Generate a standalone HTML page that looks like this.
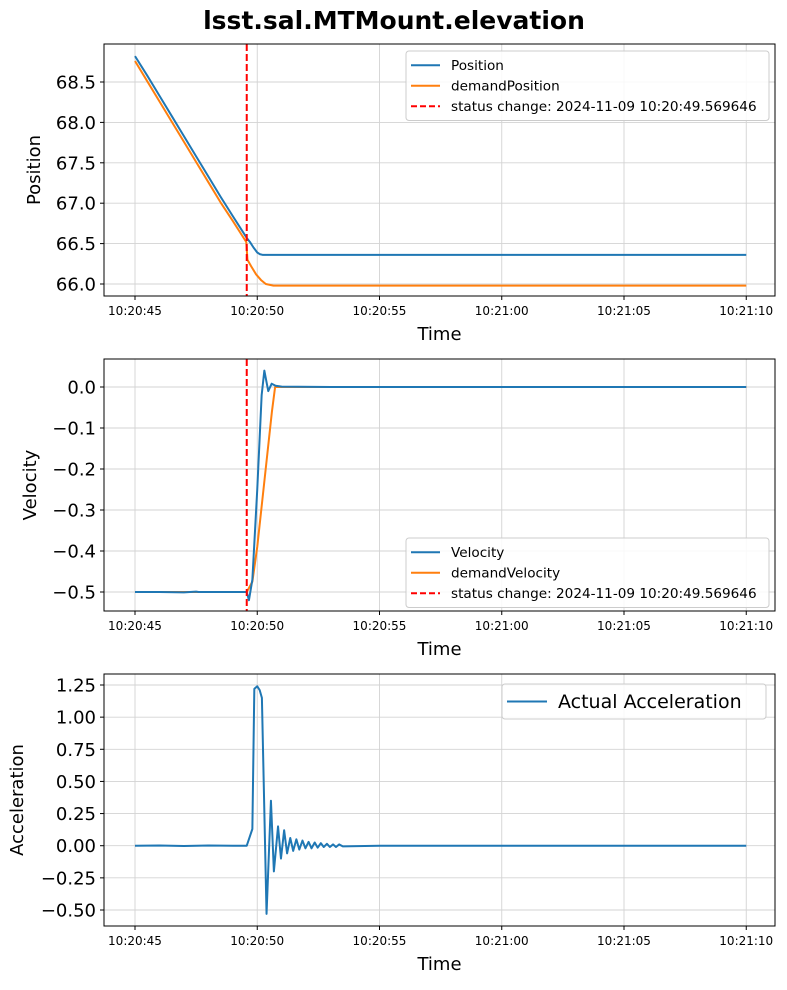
<!DOCTYPE html>
<html><head><meta charset="utf-8"><style>
body{margin:0;background:#fff;font-family:"Liberation Sans","DejaVu Sans",sans-serif}
svg text{font-family:"DejaVu Sans","Liberation Sans",sans-serif}
</style></head><body>
<svg id="fig" width="787" height="985" xmlns="http://www.w3.org/2000/svg">
<text x="394" y="29" text-anchor="middle" font-size="25" font-weight="bold">lsst.sal.MTMount.elevation</text>
</svg>
<script>
// time in seconds since 10:20:45
const xTickLabels = ["10:20:45","10:20:50","10:20:55","10:21:00","10:21:05","10:21:10"];
const xTickValues = [0,5,10,15,20,25];
const statusChangeTime = 4.57;

const posT      = [0,0.5,1,1.5,2,2.5,3,3.5,4,4.57,4.7,4.85,5.0,5.1,5.23,10,15,20,25];
const posVal    = [68.82,68.58,68.33,68.08,67.83,67.58,67.33,67.08,66.84,66.57,66.52,66.45,66.39,66.37,66.36,66.36,66.36,66.36,66.36];
const dPosT     = [0,0.5,1,1.5,2,2.5,3,3.5,4,4.55,4.6,4.75,4.95,5.15,5.35,5.66,10,15,20,25];
const dPosVal   = [68.76,68.51,68.26,68.01,67.76,67.51,67.26,67.01,66.78,66.52,66.3,66.22,66.12,66.05,66.0,65.98,65.98,65.98,65.98,65.98];

const velT      = [0,1,2,2.5,2.6,3,4,4.57,4.66,4.8,5.0,5.18,5.29,5.45,5.59,5.75,6,8,10,15,20,25];
const velVal    = [-0.5,-0.5,-0.501,-0.499,-0.5,-0.5,-0.5,-0.5,-0.52,-0.47,-0.25,-0.02,0.04,-0.01,0.008,0.003,0.001,0,0,0,0,0];
const dVelT     = [0,1,2,3,4,4.57,4.8,5.0,5.2,5.4,5.6,5.73,6,10,15,20,25];
const dVelVal   = [-0.5,-0.5,-0.5,-0.5,-0.5,-0.5,-0.475,-0.39,-0.28,-0.17,-0.06,0,0,0,0,0,0];

const accT      = [0,1,2,3,4,4.57,4.8,4.88,5.0,5.1,5.19,5.38,5.56,5.68,5.85,5.97,6.1,6.22,6.35,6.47,6.6,6.72,6.85,6.97,7.1,7.22,7.35,7.47,7.6,7.72,7.85,7.97,8.1,8.22,8.35,8.5,10,15,20,25];
const accVal    = [0,0.002,-0.002,0.002,0,0,0.13,1.22,1.24,1.21,1.15,-0.53,0.35,-0.2,0.15,-0.1,0.12,-0.06,0.06,-0.04,0.05,-0.03,0.04,-0.02,0.03,-0.02,0.025,-0.015,0.02,-0.01,0.015,-0.01,0.01,-0.01,0.01,-0.005,0,0,0,0];

const yTicks1 = [66.0,66.5,67.0,67.5,68.0,68.5];
const yTicks2 = [-0.5,-0.4,-0.3,-0.2,-0.1,0.0];
const yTicks3 = [-0.5,-0.25,0,0.25,0.5,0.75,1.0,1.25];

const NS="http://www.w3.org/2000/svg";
const svg=document.getElementById('fig');
function mk(tag,attrs,parent){const e=document.createElementNS(NS,tag);for(const k in attrs)e.setAttribute(k,attrs[k]);(parent||svg).appendChild(e);return e;}
const X0=104,X1=775;
const xs=t=>135+t*24.45;
const fmtMinus=s=>s.replace('-','\u2212');

function panel(name,top,bot,y0v,y0p,y1v,y1p,yTicks,fmt,ylabel,ylabX){
  const ys=v=>y0p+(v-y0v)*(y1p-y0p)/(y1v-y0v);
  const g=mk('g',{});
  
  
  xTickValues.forEach((v,i)=>{
    const x=xs(v);
    const gl=mk('line',{x1:x,x2:x,y1:top,y2:bot,stroke:'#d3d3d3','stroke-width':0.9},g);
    
    mk('line',{x1:x,x2:x,y1:bot,y2:bot+4,stroke:'#000'},g);
    const t=mk('text',{x:x,y:bot+19,'text-anchor':'middle','font-size':12},g);
    t.textContent=xTickLabels[i];
    
  });
  yTicks.forEach(v=>{
    const y=ys(v);
    const gl=mk('line',{x1:X0,x2:X1,y1:y,y2:y,stroke:'#d3d3d3','stroke-width':0.9},g);
    
    mk('line',{x1:X0-4,x2:X0,y1:y,y2:y,stroke:'#000'},g);
    const t=mk('text',{x:X0-8,y:y+6.5,'text-anchor':'end','font-size':18},g);
    t.textContent=fmtMinus(fmt(v));
    
  });
  const xl=mk('text',{x:(X0+X1)/2,y:bot+44,'text-anchor':'middle','font-size':18},g);
  xl.textContent='Time';
  
  const yl=mk('text',{x:ylabX,y:(top+bot)/2,'text-anchor':'middle','font-size':18,transform:`rotate(-90 ${ylabX} ${(top+bot)/2})`},g);
  yl.textContent=ylabel;
  
  return {g,ys};
}
function series(g,T,V,ys,color,name){
  const d=T.map((t,i)=>(i?'L':'M')+xs(t).toFixed(2)+','+ys(V[i]).toFixed(2)).join('');
  const p=mk('path',{d:d,fill:'none',stroke:color,'stroke-width':2,'stroke-linejoin':'round'},g);
  
  
}
function vline(g,top,bot){
  const l=mk('line',{x1:xs(statusChangeTime),x2:xs(statusChangeTime),y1:top,y2:bot,stroke:'#ff0000','stroke-width':2,'stroke-dasharray':'7,3'},g);
  
  
}
function frame(g,top,bot){
  const r=mk('rect',{x:X0,y:top,width:X1-X0,height:bot-top,fill:'none',stroke:'#000','stroke-width':1},g);
  
}
function legend(g,x,y,w,entries,fs,rowH,lineLen){
  const lg=mk('g',{},g);
  
  mk('rect',{x:x,y:y,width:w,height:entries.length*rowH+8,rx:3,fill:'#fff','fill-opacity':0.85,stroke:'#cccccc'},lg);
  entries.forEach((e,i)=>{
    const cy=y+4+rowH*(i+0.5);
    const ln=mk('line',{x1:x+5,x2:x+5+lineLen,y1:cy,y2:cy,stroke:e[1],'stroke-width':2,'stroke-dasharray':e[2]?'6,3':'none'},lg);
    
    const t=mk('text',{x:x+lineLen+16,y:cy+fs*0.35,'font-size':fs},lg);
    t.textContent=e[0];
    
  });
}

// Panel 1
let P=panel('position',44,296,66.0,284,68.5,82,yTicks1,v=>v.toFixed(1),'Position',40);
series(P.g,dPosT,dPosVal,P.ys,'#ff7f0e','demand-position-line');
series(P.g,posT,posVal,P.ys,'#1f77b4','position-line');
vline(P.g,44,296);frame(P.g,44,296);
legend(P.g,406,51,363,[['Position','#1f77b4'],['demandPosition','#ff7f0e'],['status change: 2024-11-09 10:20:49.569646','#ff0000',true]],13.6,20.5,29);

// Panel 2
P=panel('velocity',359,611,0,387,-0.5,592,yTicks2,v=>v.toFixed(1),'Velocity',36);
series(P.g,dVelT,dVelVal,P.ys,'#ff7f0e','demand-velocity-line');
series(P.g,velT,velVal,P.ys,'#1f77b4','velocity-line');
vline(P.g,359,611);frame(P.g,359,611);
legend(P.g,406,538,363,[['Velocity','#1f77b4'],['demandVelocity','#ff7f0e'],['status change: 2024-11-09 10:20:49.569646','#ff0000',true]],13.6,20.5,29);

// Panel 3
P=panel('acceleration',674,926,1.25,685,-0.5,910,yTicks3,v=>v.toFixed(2),'Acceleration',23);
series(P.g,accT,accVal,P.ys,'#1f77b4','acceleration-line');
frame(P.g,674,926);
legend(P.g,502,684,264,[['Actual Acceleration','#1f77b4']],19,27,40);
</script>
</body></html>
